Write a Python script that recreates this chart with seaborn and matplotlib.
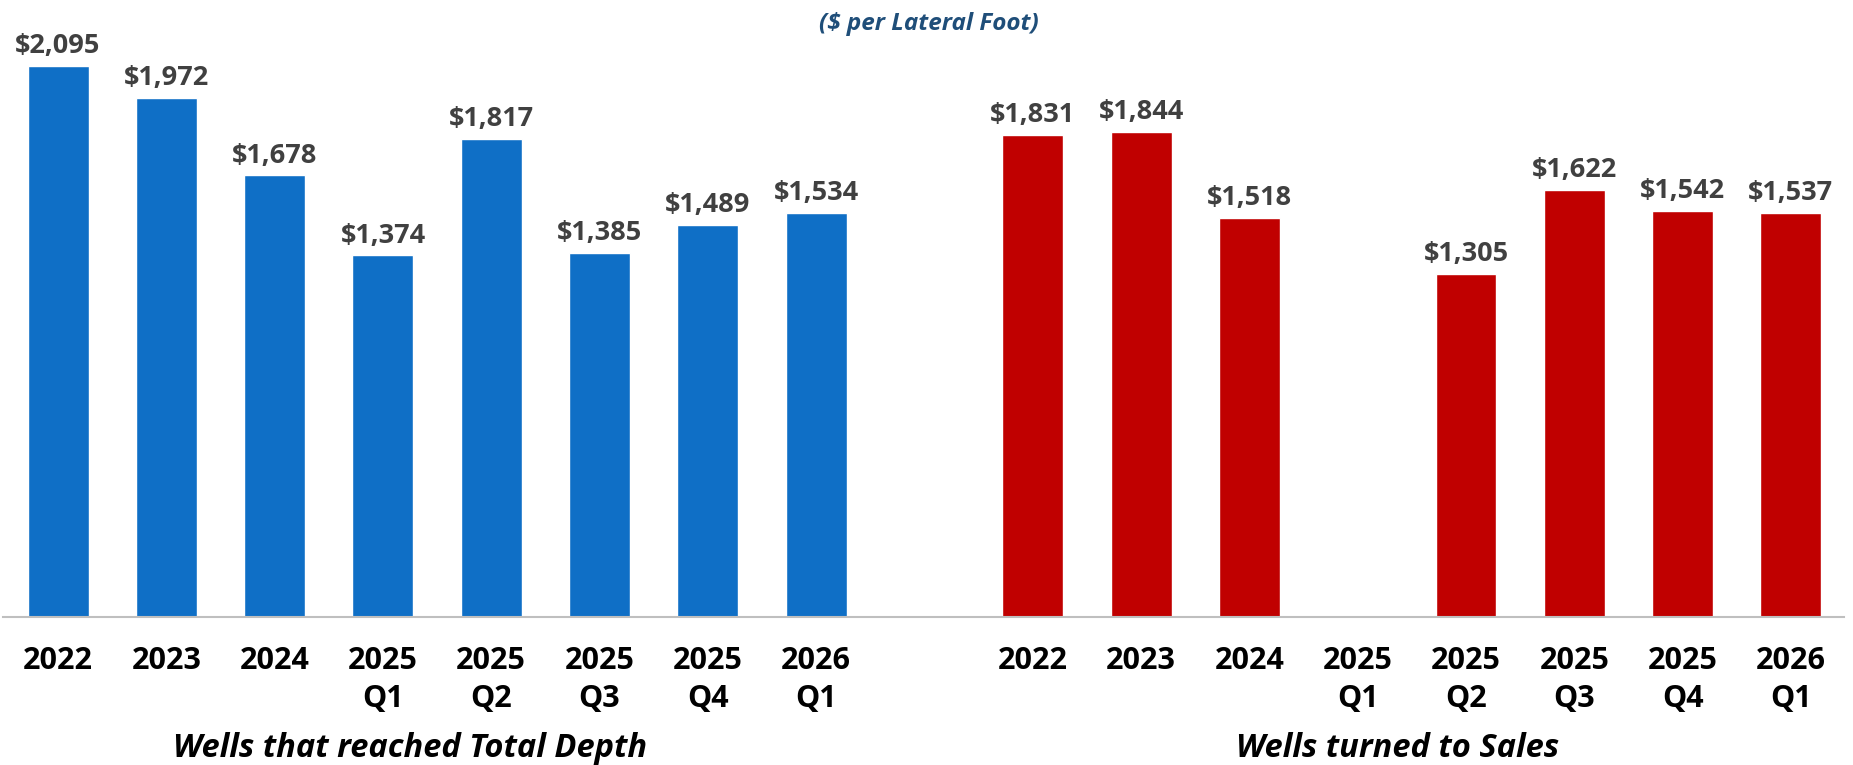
import numpy as np
import pandas as pd
import matplotlib
matplotlib.use("Agg")
from matplotlib import pyplot as plt
import seaborn as sns

# data
periods = ['2022', '2023', '2024', '2025\nQ1', '2025\nQ2', '2025\nQ3', '2025\nQ4', '2026\nQ1']
td_cost = [2095, 1972, 1678, 1374, 1817, 1385, 1489, 1534]
sales_cost = [1831, 1844, 1518, np.nan, 1305, 1622, 1542, 1537]
groups = ['Wells that reached Total Depth', 'Wells turned to Sales']
colors = ['#0F6FC6', '#C00000']

# one shared axis: 8 slots, an empty slot, 8 slots
td_slots = list(range(8))
sales_slots = list(range(9, 17))

df = pd.concat([
    pd.DataFrame({'slot': td_slots, 'cost': td_cost, 'group': groups[0]}),
    pd.DataFrame({'slot': sales_slots, 'cost': sales_cost, 'group': groups[1]}),
], ignore_index=True)

sns.set_style('white')
plt.rcParams['font.family'] = ['Open Sans', 'DejaVu Sans']

fig = plt.figure(figsize=(18.53, 7.65), dpi=100)
ax = fig.add_axes([3 / 1853, 1 - 617 / 765, 1841 / 1853, 617 / 765])

sns.barplot(data=df, x='slot', y='cost', hue='group', native_scale=True,
            dodge=False, palette=colors, width=0.563, saturation=1,
            legend=False, ax=ax)

for cont in ax.containers:
    ax.bar_label(cont, fmt=lambda v: '${:,.0f}'.format(v), padding=5,
                 fontsize=19.5, fontweight='bold', color='#404040')

ax.set_xlim(-0.508, 16.49)
ax.set_ylim(0, 2345)
ax.set_xticks(td_slots + sales_slots)
ax.set_xticklabels(periods + periods, fontsize=22, fontweight='bold',
                   color='black', linespacing=1.36)
ax.tick_params(axis='x', length=0, pad=21)
ax.set_yticks([])
ax.set_xlabel('')
ax.set_ylabel('')
for s in ['top', 'left', 'right']:
    ax.spines[s].set_visible(False)
ax.spines['bottom'].set_color('#BFBFBF')
ax.spines['bottom'].set_linewidth(1.5)

# group captions under the tick labels
ax.text(3.25, -0.213, groups[0], transform=ax.get_xaxis_transform(),
        ha='center', va='center', fontsize=23.5, fontweight='bold',
        fontstyle='italic', color='black')
ax.text(12.37, -0.213, groups[1], transform=ax.get_xaxis_transform(),
        ha='center', va='center', fontsize=23.5, fontweight='bold',
        fontstyle='italic', color='black')

fig.text(929 / 1853, 1 - 24 / 765, '($ per Lateral Foot)', ha='center',
         va='center', fontsize=17.5, fontweight='bold', fontstyle='italic',
         color='#1F4E79')

fig.savefig('out.png', dpi=100)
